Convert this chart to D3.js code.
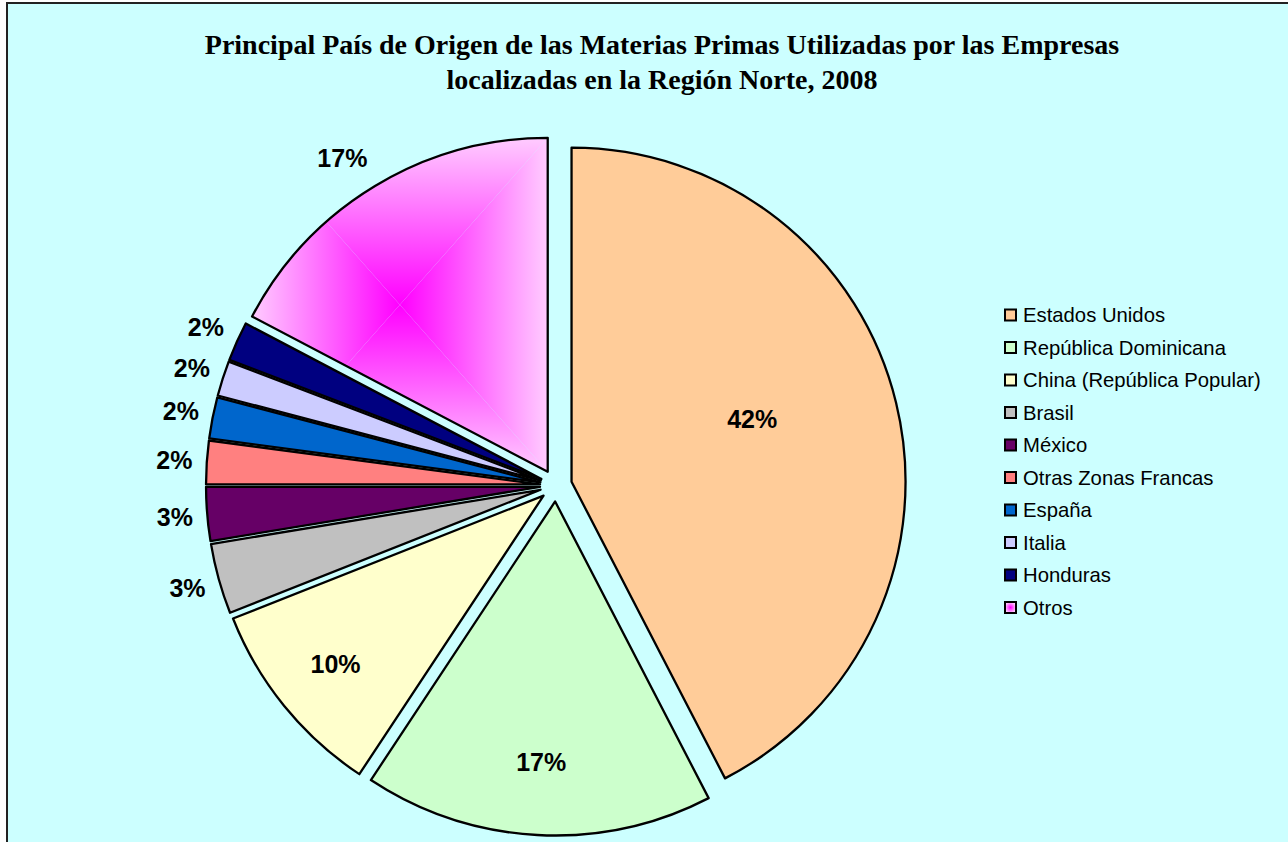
<!DOCTYPE html>
<html>
<head>
<meta charset="utf-8">
<script src="https://cdn.jsdelivr.net/npm/d3@7"></script>
<style>
  body { margin: 0; background: #ffffff; }
  svg { display: block; }
</style>
</head>
<body>
<div id="chart"></div>
<script>
// chart data
var countries = ["Estados Unidos", "República Dominicana", "China (República Popular)", "Brasil",
  "México", "Otras Zonas Francas", "España", "Italia", "Honduras", "Otros"];
var shares = [42.4, 16.9, 9.7, 3.4, 2.6, 2.1, 2.0, 1.7, 1.9, 17.3];
var colors = ["#FFCC99", "#CCFFCC", "#FFFFCC", "#C0C0C0", "#660066",
  "#FF8080", "#0066CC", "#CCCCFF", "#000080", "#FF00FF"];
var titleLines = ["Principal País de Origen de las Materias Primas Utilizadas por las Empresas",
  "localizadas en la Región Norte, 2008"];

// where each percent label goes (fraction of the radius, >1 means outside)
// plus a small turn in degrees away from the slice middle
var labelDist = [0.62, 0.83, 0.85, 1.145, 1.145, 1.145, 1.145, 1.145, 1.15, 1.17];
var labelTurn = [-5, 0, 0, 0, 0, 0, 0, 0, 0, -2];

var w = 1288, h = 842;
var cx = 556, cy = 485.5, radius = 334, explode = 16;

var svg = d3.select("#chart").append("svg")
  .attr("width", w)
  .attr("height", h);

var defs = svg.append("defs");

// chart area
svg.append("rect")
  .attr("x", 7).attr("y", 3)
  .attr("width", w + 20).attr("height", h + 20)
  .attr("fill", "#CCFFFF")
  .attr("stroke", "#222")
  .attr("stroke-width", 2);

// title
svg.selectAll("text.title")
  .data(titleLines)
  .enter()
  .append("text")
  .attr("class", "title")
  .attr("x", 662)
  .attr("y", function(d, i) { return 54 + i * 35; })
  .attr("text-anchor", "middle")
  .style("font-family", "'Liberation Serif', 'Times New Roman', serif")
  .style("font-weight", "bold")
  .style("font-size", "28px")
  .text(function(d) { return d; });

var pie = d3.pie().sort(null).value(function(d) { return d; });
var arcs = pie(shares);

var arc = d3.arc().innerRadius(0).outerRadius(radius);

function offset(d) {
  var mid = (d.startAngle + d.endAngle) / 2;
  return [explode * Math.sin(mid), -explode * Math.cos(mid)];
}

var g = svg.append("g").attr("transform", "translate(" + cx + "," + cy + ")");

var slices = g.selectAll("g.slice")
  .data(arcs)
  .enter()
  .append("g")
  .attr("class", "slice")
  .attr("transform", function(d) {
    var o = offset(d);
    return "translate(" + o[0] + "," + o[1] + ")";
  });

// "Otros" gets a rectangular gradient from the middle, like the original
slices.each(function(d, i) {
  var s = d3.select(this);
  if (i === colors.length - 1) {
    var clipId = "clipOtros";
    defs.append("clipPath").attr("id", clipId)
      .append("path").attr("d", arc(d));
    var tmp = s.append("path").attr("d", arc(d)).attr("fill", "none");
    var bb = tmp.node().getBBox();
    tmp.remove();
    var mx = bb.x + bb.width / 2, my = bb.y + bb.height / 2;
    var corners = [[bb.x, bb.y], [bb.x + bb.width, bb.y],
      [bb.x + bb.width, bb.y + bb.height], [bb.x, bb.y + bb.height]];
    var sides = [[mx, bb.y], [bb.x + bb.width, my], [mx, bb.y + bb.height], [bb.x, my]];
    var cg = s.append("g").attr("clip-path", "url(#" + clipId + ")");
    for (var k = 0; k < 4; k++) {
      var gid = "otrosGrad" + k;
      var lg = defs.append("linearGradient").attr("id", gid)
        .attr("gradientUnits", "userSpaceOnUse")
        .attr("x1", mx).attr("y1", my)
        .attr("x2", sides[k][0]).attr("y2", sides[k][1]);
      lg.append("stop").attr("offset", "0%").attr("stop-color", "#FF00FF");
      lg.append("stop").attr("offset", "100%").attr("stop-color", "#FFCCFF");
      var a = corners[k], b = corners[(k + 1) % 4];
      cg.append("path")
        .attr("d", "M" + mx + "," + my + "L" + a[0] + "," + a[1] + "L" + b[0] + "," + b[1] + "Z")
        .attr("fill", "url(#" + gid + ")");
    }
    s.append("path").attr("d", arc(d))
      .attr("fill", "none")
      .attr("stroke", "#000")
      .attr("stroke-width", 2.3)
      .attr("stroke-linejoin", "round");
  } else {
    s.append("path").attr("d", arc(d))
      .attr("fill", colors[i])
      .attr("stroke", "#000")
      .attr("stroke-width", 2.3)
      .attr("stroke-linejoin", "round");
  }
});

// percent labels
g.selectAll("text.pct")
  .data(arcs)
  .enter()
  .append("text")
  .attr("class", "pct")
  .attr("transform", function(d, i) {
    var mid = (d.startAngle + d.endAngle) / 2 + labelTurn[i] * Math.PI / 180;
    var r = radius * labelDist[i];
    return "translate(" + (r * Math.sin(mid)) + "," + (-r * Math.cos(mid)) + ")";
  })
  .attr("text-anchor", "middle")
  .attr("dy", "0.36em")
  .style("font-family", "'Liberation Sans', Arial, sans-serif")
  .style("font-weight", "bold")
  .style("font-size", "25px")
  .text(function(d) { return Math.round(d.data) + "%"; });

// legend
var legend = svg.append("g").attr("transform", "translate(1004,315)");

var items = legend.selectAll("g.item")
  .data(countries)
  .enter()
  .append("g")
  .attr("class", "item")
  .attr("transform", function(d, i) { return "translate(0," + (i * 32.5) + ")"; });

var lg2 = defs.append("radialGradient").attr("id", "legOtros");
lg2.append("stop").attr("offset", "0%").attr("stop-color", "#FF00FF");
lg2.append("stop").attr("offset", "100%").attr("stop-color", "#FFCCFF");

items.append("rect")
  .attr("x", 1).attr("y", -5.5)
  .attr("width", 11).attr("height", 11)
  .attr("fill", function(d, i) { return i === colors.length - 1 ? "url(#legOtros)" : colors[i]; })
  .attr("stroke", "#000")
  .attr("stroke-width", 2);

items.append("text")
  .attr("x", 19)
  .attr("dy", "0.36em")
  .style("font-family", "'Liberation Sans', Arial, sans-serif")
  .style("font-size", "20.3px")
  .text(function(d) { return d; });
</script>
</body>
</html>
